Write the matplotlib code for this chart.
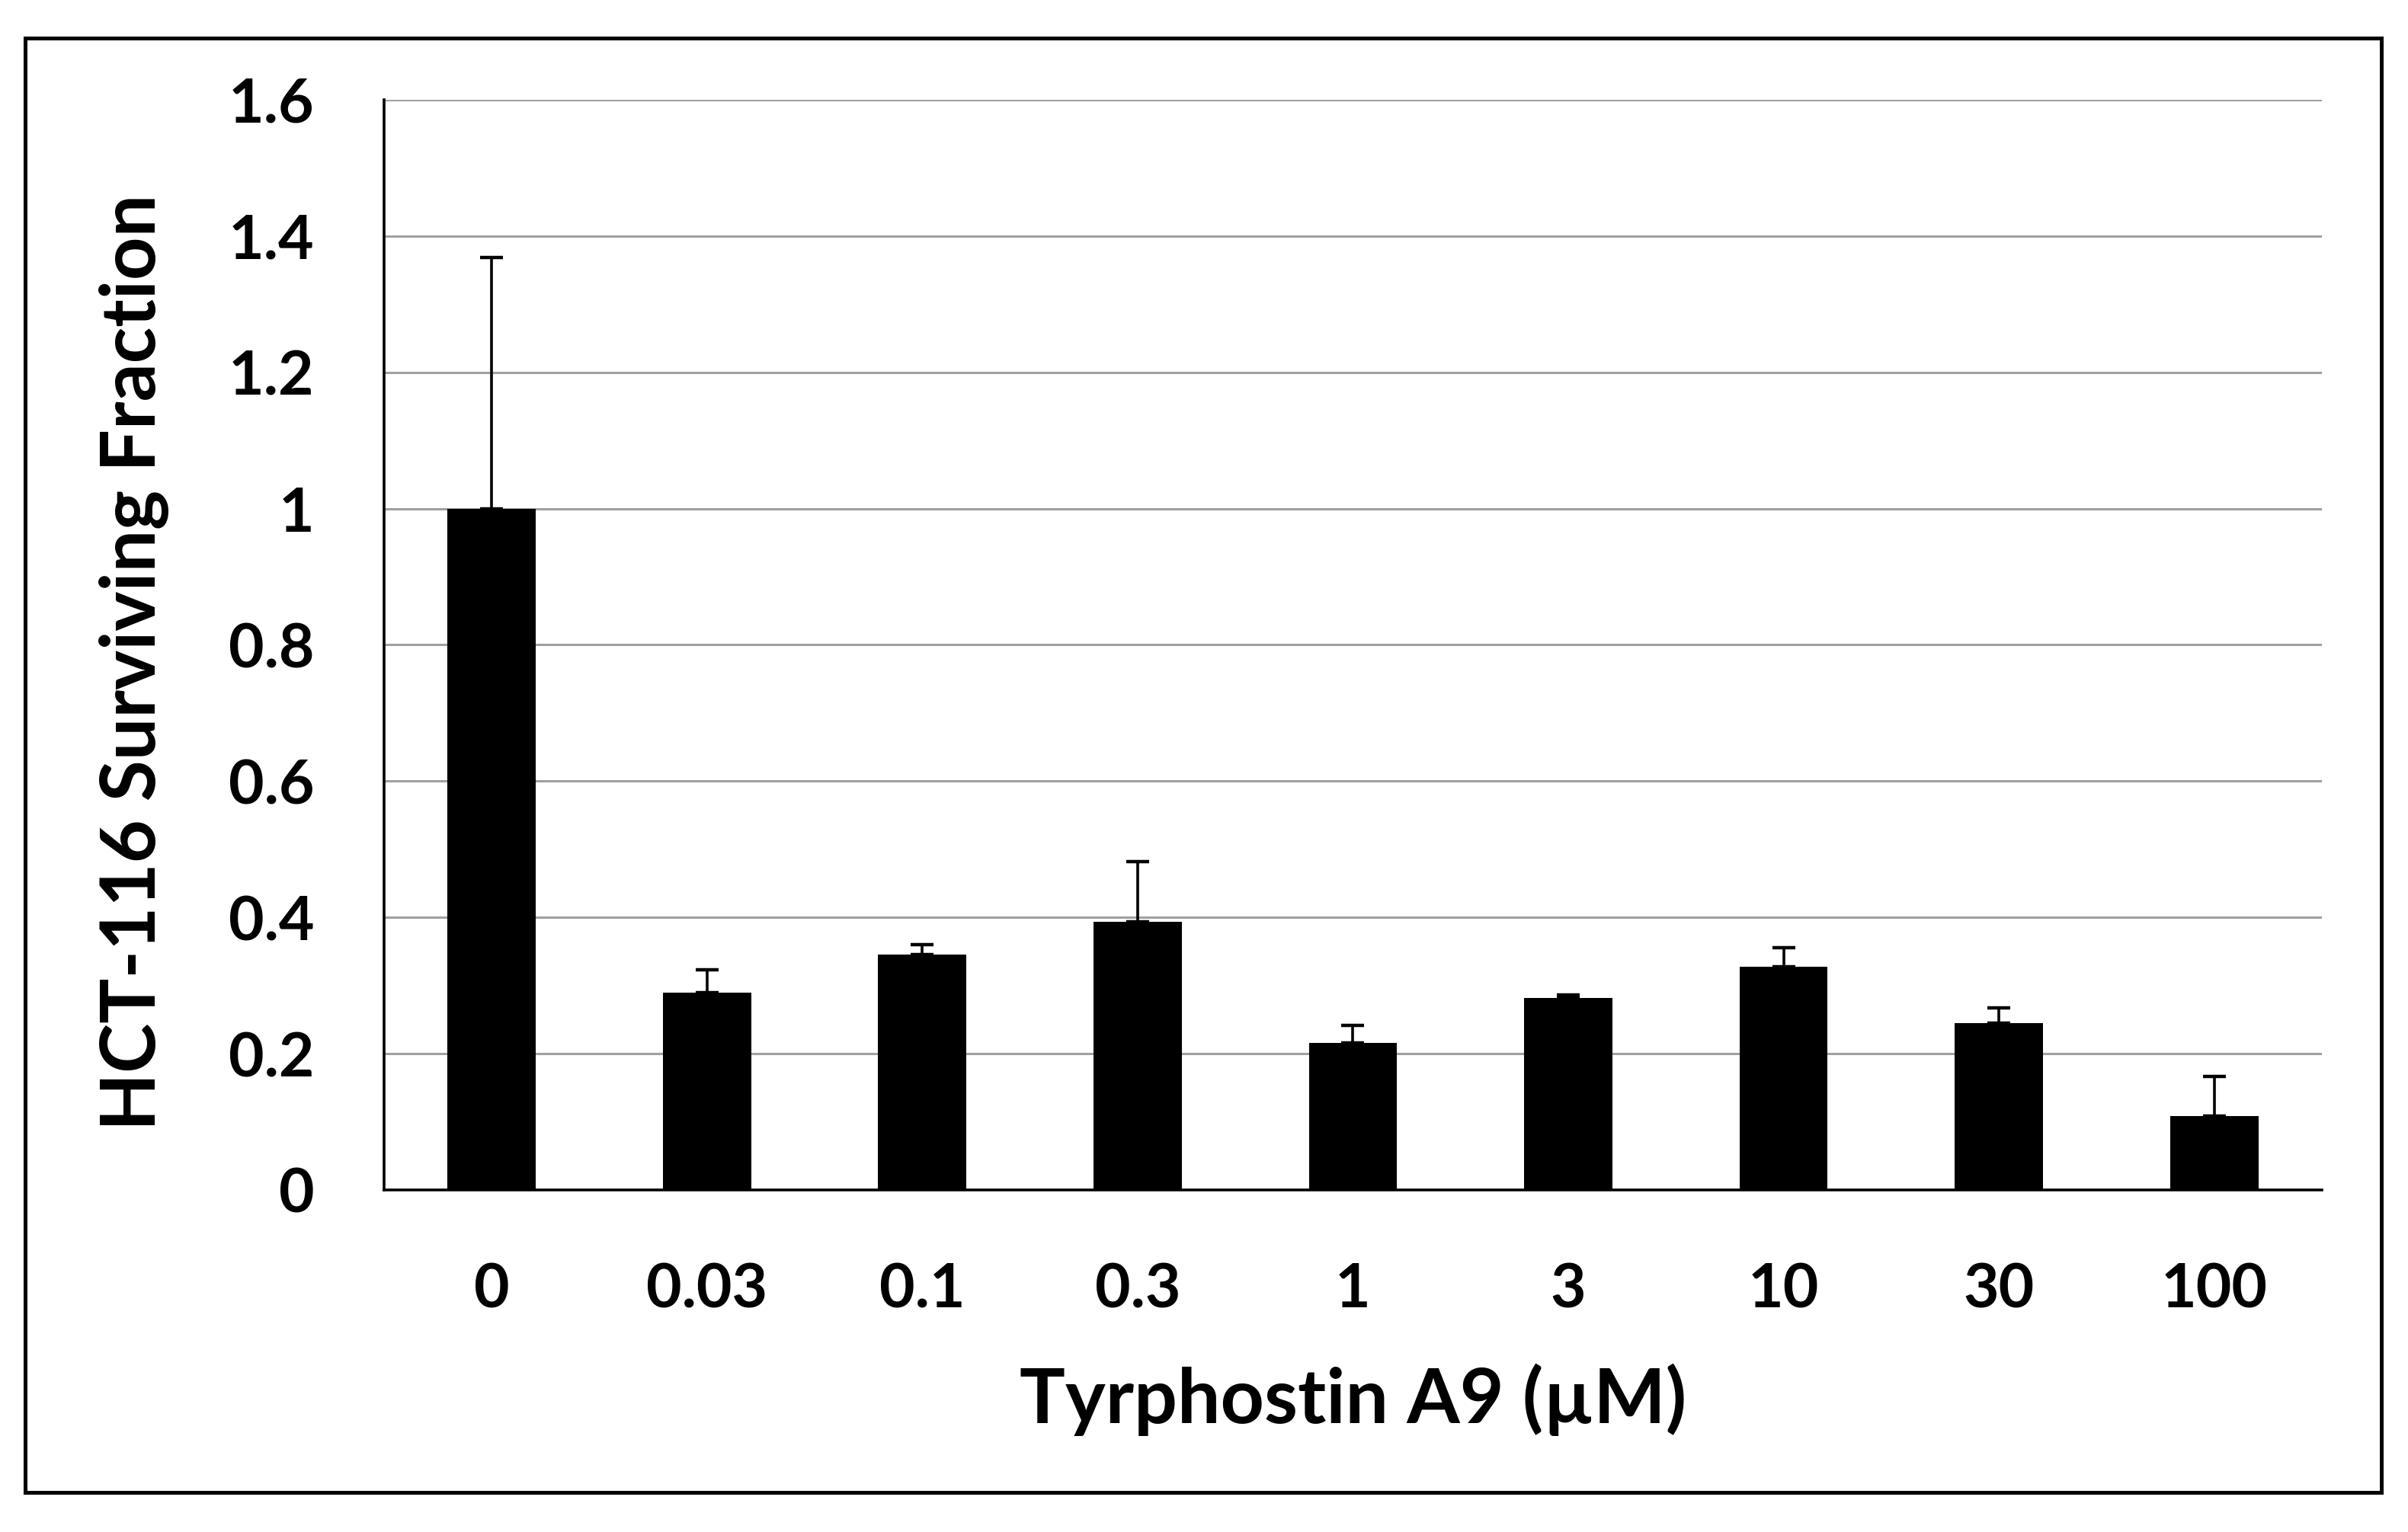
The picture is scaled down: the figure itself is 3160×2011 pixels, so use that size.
import numpy as np
import matplotlib
matplotlib.use("Agg")
import matplotlib.pyplot as plt
from matplotlib.patches import Rectangle

# data
doses = ["0", "0.03", "0.1", "0.3", "1", "3", "10", "30", "100"]
surviving = [1.00, 0.290, 0.345, 0.393, 0.216, 0.282, 0.327, 0.245, 0.108]
err_up = [0.368, 0.033, 0.015, 0.089, 0.026, 0.004, 0.028, 0.022, 0.059]
yticks = [0, 0.2, 0.4, 0.6, 0.8, 1.0, 1.2, 1.4, 1.6]
ytick_labels = ["0", "0.2", "0.4", "0.6", "0.8", "1", "1.2", "1.4", "1.6"]

plt.rcParams['font.family'] = ['Lato', 'DejaVu Sans']
plt.rcParams['font.weight'] = 'bold'

fig = plt.figure(figsize=(15.8, 10.055), dpi=200)
ax = fig.add_axes([0.1595, 0.2233, 0.8047, 0.7116])

x = np.arange(len(doses))
ax.bar(x, surviving, width=0.41, color='black', zorder=3)
ax.errorbar(x, surviving, yerr=[np.zeros(len(err_up)), err_up], fmt='none',
            ecolor='black', elinewidth=1.3, capsize=5.5, capthick=1.6, zorder=4)

ax.set_xlim(-0.5, len(doses) - 0.5)
ax.set_ylim(0, 1.6)
ax.set_yticks(yticks)
ax.set_yticklabels(ytick_labels)
ax.set_xticks(x)
ax.set_xticklabels(doses)
ax.tick_params(axis='both', length=0, labelsize=29)
ax.tick_params(axis='y', pad=33)
ax.tick_params(axis='x', pad=34)
for lbl in ax.get_xticklabels() + ax.get_yticklabels():
    lbl.set_fontweight('bold')

ax.yaxis.grid(True, color='#a0a0a0', linewidth=1.1, zorder=0)
ax.set_axisbelow(True)
for s in ['top', 'right']:
    ax.spines[s].set_visible(False)
ax.spines['left'].set_linewidth(1.3)
ax.spines['bottom'].set_linewidth(1.3)
ax.spines['bottom'].set_zorder(2)

ax.set_xlabel("Tyrphostin A9 (µM)", fontsize=36, fontweight='bold')
ax.xaxis.label.set_va('baseline')
ax.xaxis.set_label_coords(0.5, -0.2138)
ax.set_ylabel("HCT-116 Surviving Fraction", fontsize=35.5, fontweight='bold')
ax.yaxis.label.set(va='center', ha='center')
ax.yaxis.set_label_coords(-0.129, 0.484)

# outer frame around the whole chart
fig.patches.append(Rectangle((0.01044, 0.02586), 0.9785, 0.9493, transform=fig.transFigure,
                             fill=False, edgecolor='black', linewidth=1.8))

fig.savefig("out.png", dpi=200, facecolor='white')
